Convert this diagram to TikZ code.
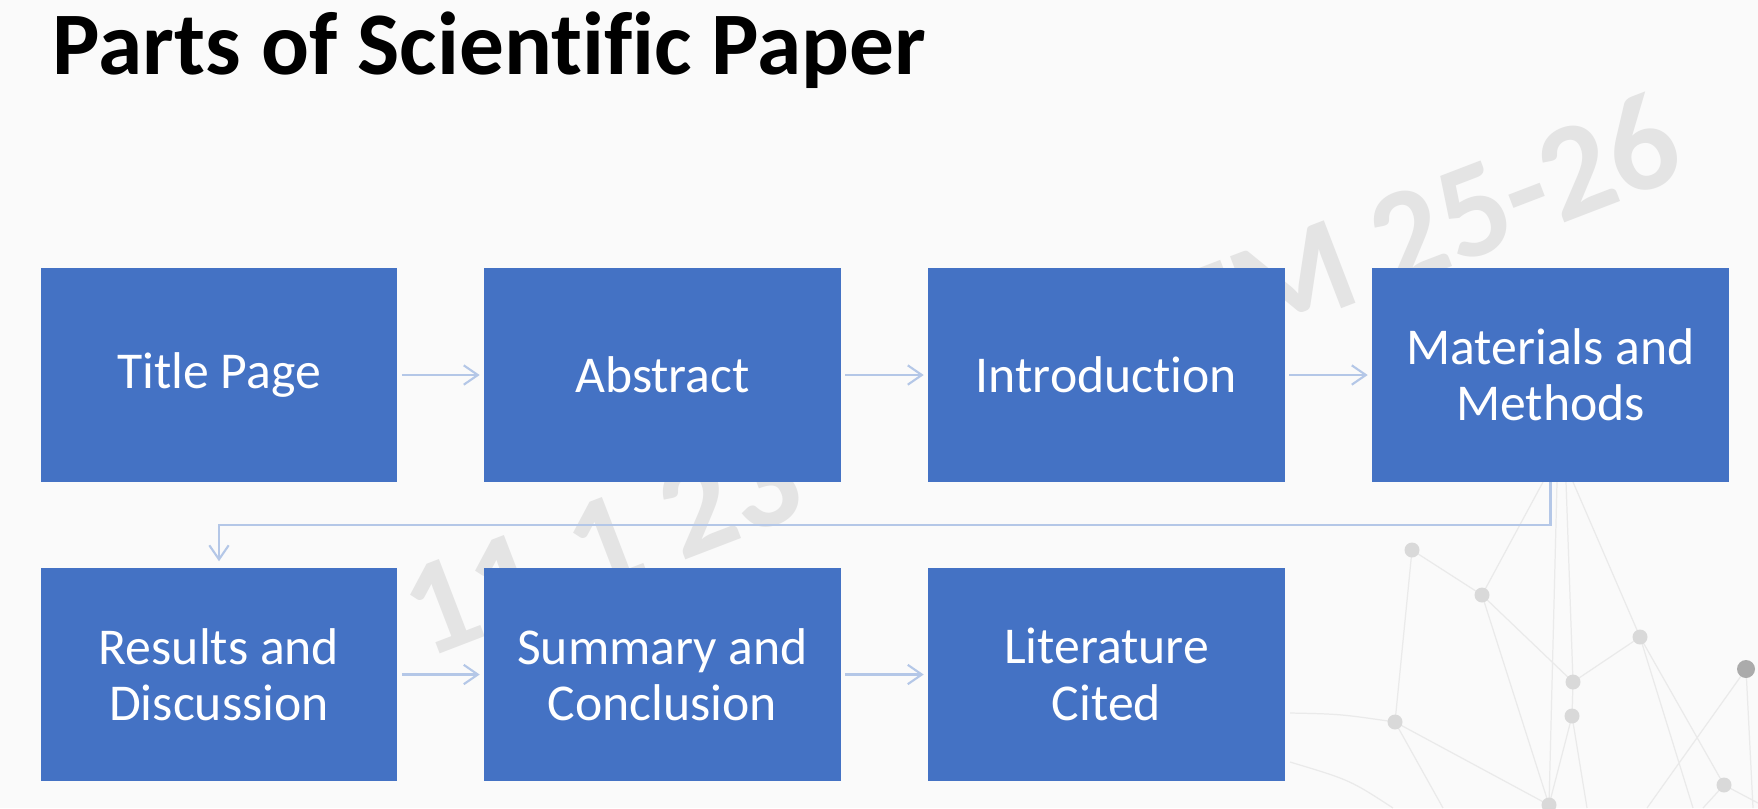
\documentclass[tikz,border=0pt]{standalone}
\usepackage{fontspec}
\setmainfont{Carlito}[Ligatures=NoCommon]
\usetikzlibrary{arrows.meta}
\definecolor{bg}{HTML}{FAFAFA}
\definecolor{boxblue}{HTML}{4472C4}
\definecolor{connblue}{HTML}{B4C7E7}
\definecolor{wmgray}{HTML}{E4E4E4}
\definecolor{netline}{HTML}{EAEAEA}
\definecolor{netdot}{HTML}{D9D9D9}
\definecolor{netdark}{HTML}{ABABAB}
\begin{document}
\begin{tikzpicture}[x=0.01cm,y=-0.01cm,
  stepbox/.style={fill=boxblue, draw=none, minimum width=3.56cm, minimum height=2.13cm,
    inner sep=0pt, text=white, align=center, font=\fontsize{14.7}{16}\selectfont},
  flow/.style={draw=connblue, line width=0.6pt,
    -{Straight Barb[length=4pt,width=5.5pt,line width=0.6pt]}},
  wmark/.style={text=wmgray, inner sep=0pt, rotate=21,
    font=\fontsize{38.7}{40}\selectfont\bfseries},
  netl/.style={draw=netline, line width=0.35pt},
  netd/.style={fill=netdot, draw=none}
]
% canvas
\fill[bg] (0,0) rectangle (1758,808);
\useasboundingbox (0,0) rectangle (1758,808);

% faint network decoration
\coordinate (n1) at (1412,550);
\coordinate (n2) at (1482,595);
\coordinate (n3) at (1640,637);
\coordinate (n4) at (1746,669);
\coordinate (n5) at (1573,682);
\coordinate (n6) at (1572,716);
\coordinate (n7) at (1395,722);
\coordinate (n8) at (1549,805);
\coordinate (n9) at (1724,785);
\draw[netl] (n1) -- (n2) (n1) -- (n7) (n2) -- (n5) (n2) -- (1543,482)
  (n5) -- (n3) (n3) -- (1573,482) (n5) -- (1566,482) (n8) -- (1557,482)
  (n6) -- (n5) (n6) -- (n8) (n6) -- (1587,808) (n2) -- (n8) (n7) -- (n8)
  (n7) -- (1443,808) (n3) -- (1693,808) (n3) -- (n9)
  (n4) -- (1647,808) (n4) -- (1753,808) (n9) -- (1703,808) (n9) -- (1758,803);
\draw[netl] (1290,713) .. controls (1340,714) .. (n7);
\draw[netl] (1290,762) .. controls (1350,780) .. (1393,808);
\foreach \p in {n1,n2,n3,n5,n6,n7,n8,n9} \fill[netd] (\p) circle (7.5);
\fill[netdark] (n4) circle (9);

% watermark
\node[wmark, anchor=base west] (wma) at (425,660) {11.1 23};
\node[wmark, anchor=base east] (wmb) at (1690,175) {TM 25-26};

% title
\node[anchor=base west, inner sep=0pt, font=\fontsize{25.4}{30}\selectfont\bfseries] (title) at (52,74) {Parts of Scientific Paper};

% boxes
\node[stepbox] (tp) at (219,375) {Title Page};
\node[stepbox] (ab) at (662.5,375) {Abstract};
\node[stepbox] (in) at (1106.5,375) {Introduction};
\node[stepbox] (mm) at (1550.5,375) {Materials and\\Methods};
\node[stepbox] (rd) at (219,674.5) {Results and\\Discussion};
\node[stepbox] (sc) at (662.5,674.5) {Summary and\\Conclusion};
\node[stepbox] (lc) at (1106.5,674.5) {Literature\\Cited};

% connectors
\draw[flow, shorten <=0.04cm, shorten >=0.04cm] (tp) -- (ab);
\draw[flow, shorten <=0.04cm, shorten >=0.04cm] (ab) -- (in);
\draw[flow, shorten <=0.04cm, shorten >=0.04cm] (in) -- (mm);
\draw[flow, shorten >=0.06cm] (mm.south) -- ++(0,43) -| (rd.north);
\draw[flow, shorten <=0.04cm, shorten >=0.04cm] (rd) -- (sc);
\draw[flow, shorten <=0.04cm, shorten >=0.04cm] (sc) -- (lc);
\end{tikzpicture}
\end{document}
